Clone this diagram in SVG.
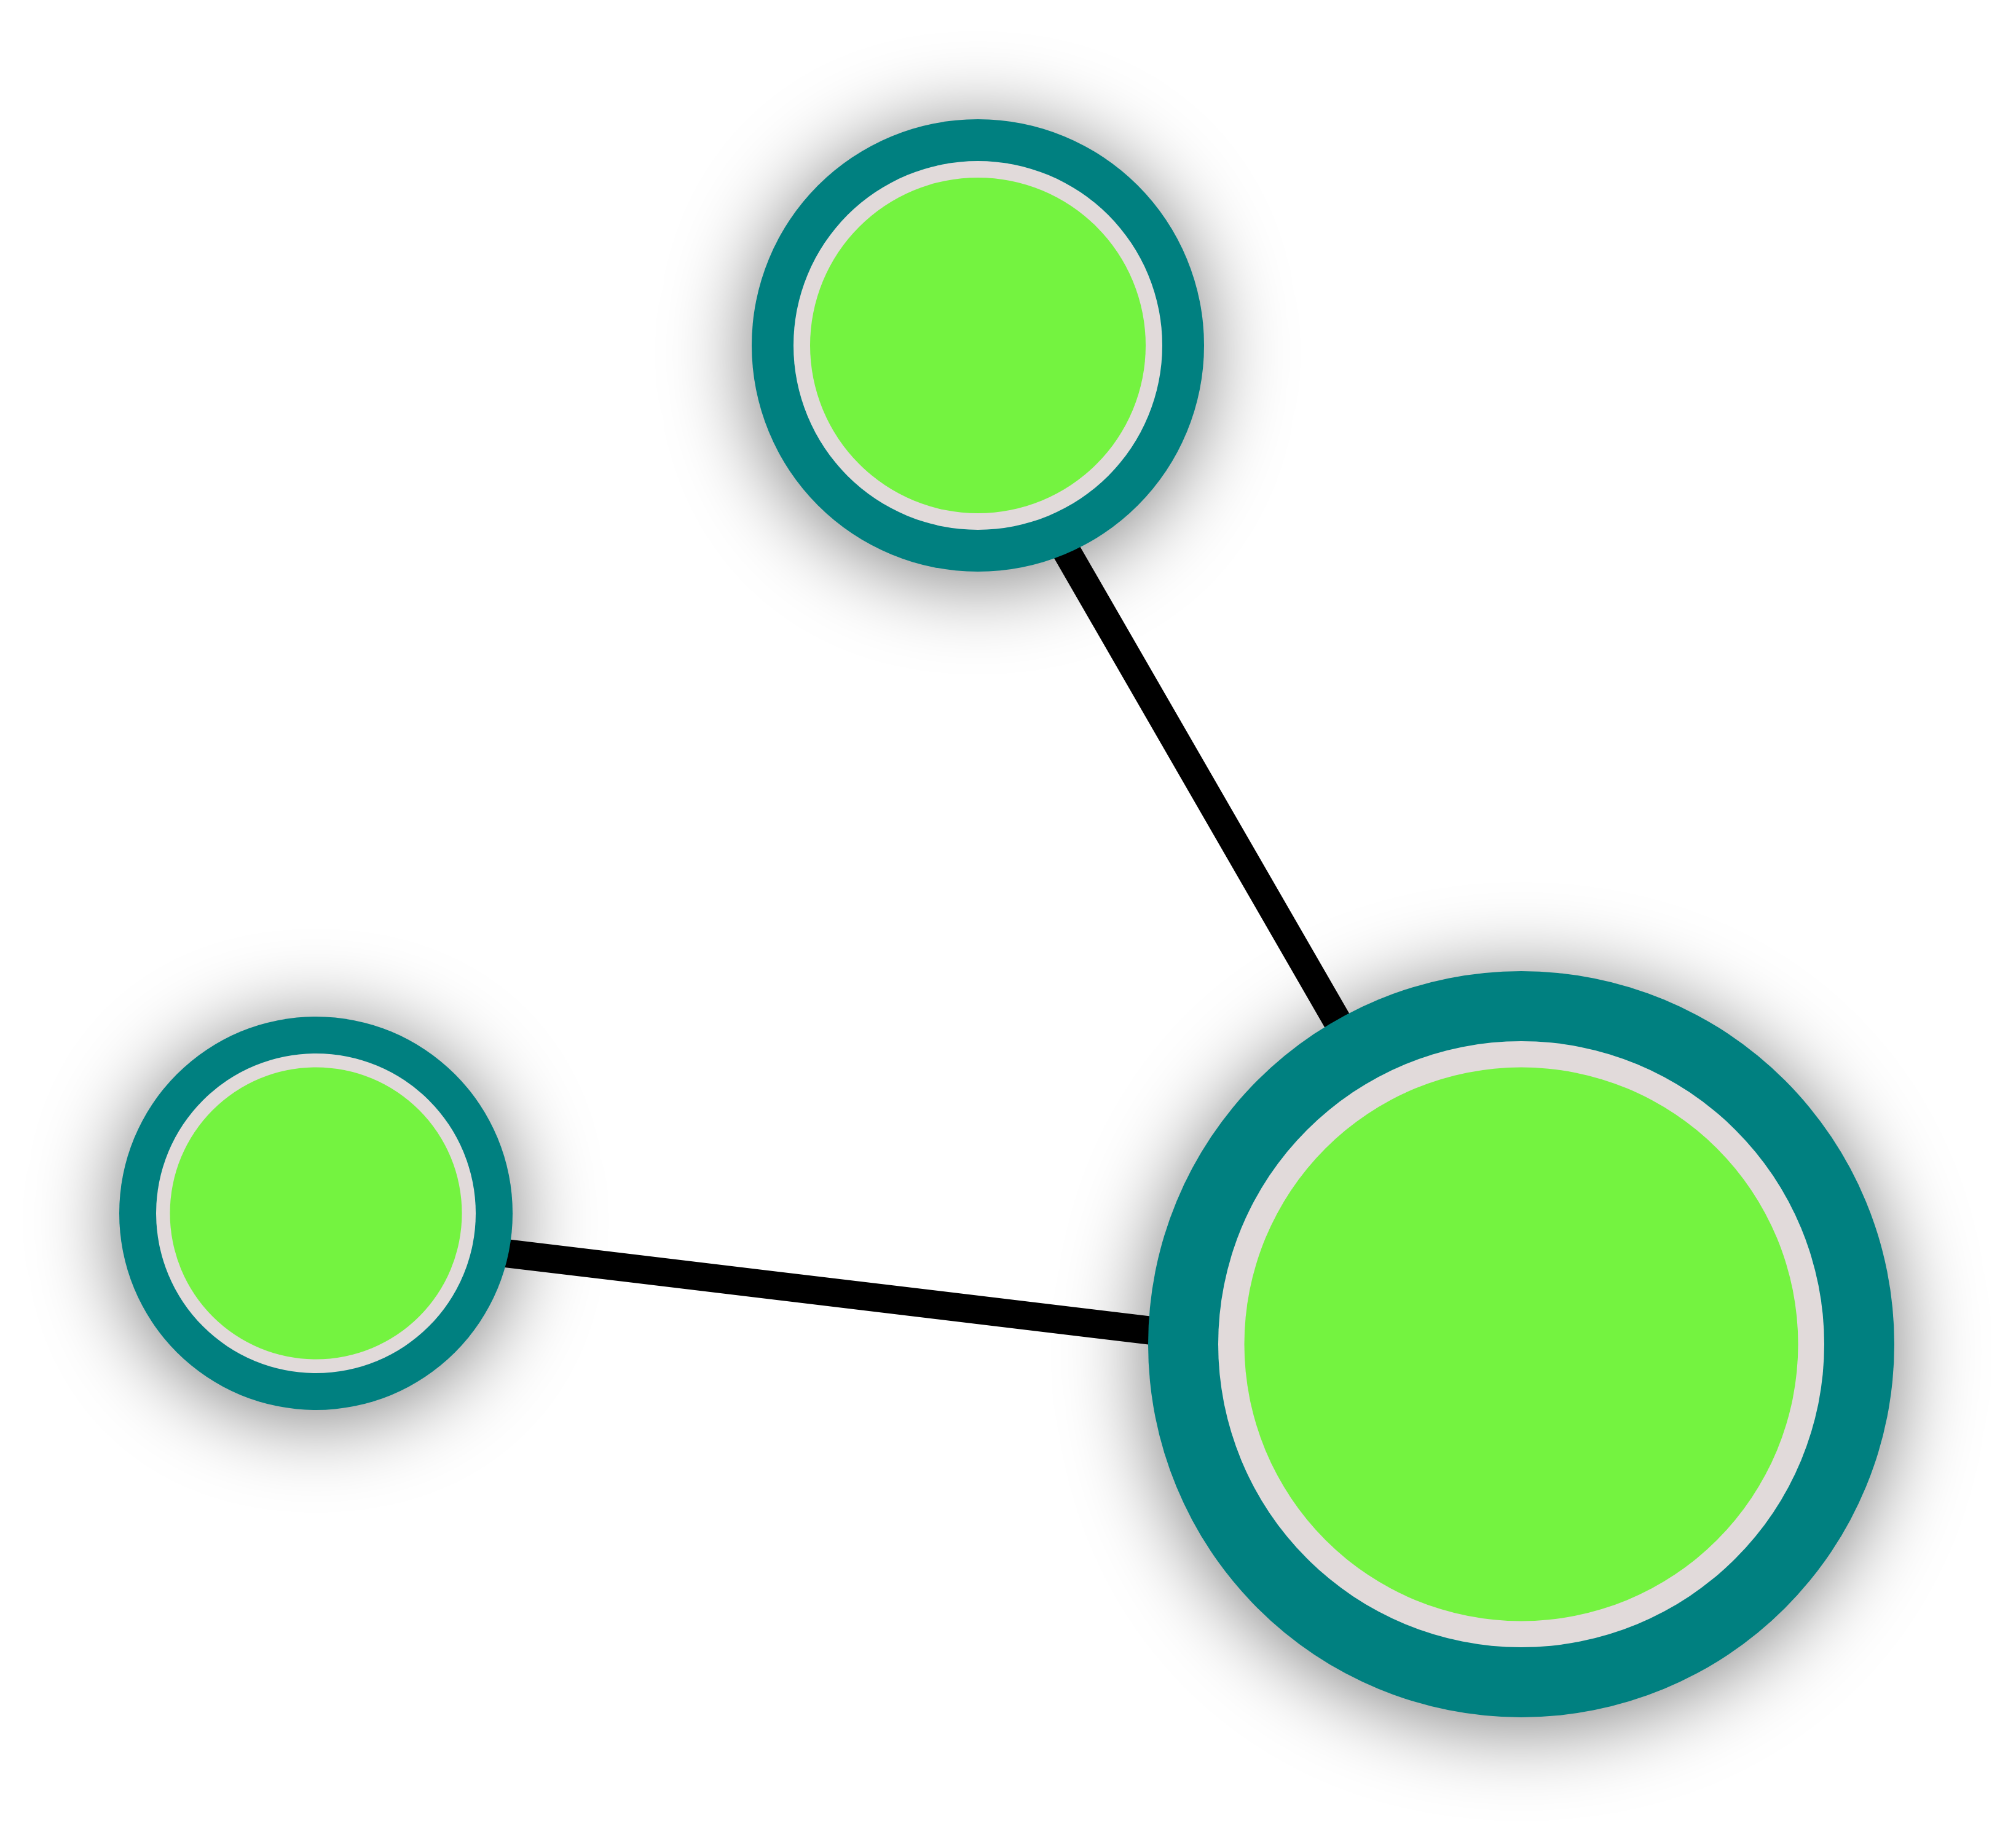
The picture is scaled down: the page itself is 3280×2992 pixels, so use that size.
<svg xmlns="http://www.w3.org/2000/svg" width="3280" height="2992" viewBox="0 0 3280 2992">
  <defs>
    <filter id="soft" x="-60%" y="-60%" width="220%" height="220%">
      <feGaussianBlur stdDeviation="68"/>
    </filter>
  </defs>
  <style>
    .shadow { fill: #000000; fill-opacity: 0.5; filter: url(#soft); }
    .outer { fill: #008080; }
    .ring { fill: #E1DADA; }
    .core { fill: #74F340; }
    .edge { stroke: #000000; stroke-width: 46; fill: none; }
  </style>
  <rect x="0" y="0" width="3280" height="2992" fill="#FFFFFF"/>
  <g id="shadows">
    <circle class="shadow" cx="1591" cy="574" r="372"/>
    <circle class="shadow" cx="514" cy="1986" r="324"/>
    <circle class="shadow" cx="2475" cy="2199" r="611"/>
  </g>
  <g id="connectors">
    <line class="edge" x1="1542" y1="562" x2="2479" y2="2187"/>
    <line class="edge" x1="514" y1="2002" x2="2475" y2="2237"/>
  </g>
  <g id="node-top">
    <circle class="outer" cx="1591" cy="562" r="368"/>
    <circle class="ring" cx="1591" cy="562" r="300"/>
    <circle class="core" cx="1591" cy="562" r="273"/>
  </g>
  <g id="node-left">
    <circle class="outer" cx="514" cy="1974" r="320"/>
    <circle class="ring" cx="514" cy="1974" r="260"/>
    <circle class="core" cx="514" cy="1974" r="237.5"/>
  </g>
  <g id="node-right">
    <circle class="outer" cx="2475" cy="2187" r="607"/>
    <circle class="ring" cx="2475" cy="2187" r="493"/>
    <circle class="core" cx="2475" cy="2187" r="450.5"/>
  </g>
</svg>
